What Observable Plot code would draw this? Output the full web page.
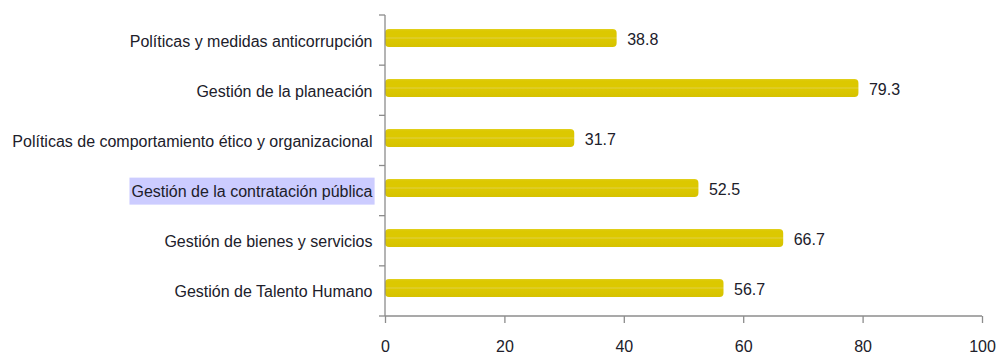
<!DOCTYPE html>
<html>
<head>
<meta charset="utf-8">
<script src="https://cdn.jsdelivr.net/npm/d3@7"></script>
<script src="https://cdn.jsdelivr.net/npm/@observablehq/plot@0.6"></script>
<style>
  body { margin: 0; background: #fff; }
  #chart svg { display: block; }
</style>
</head>
<body>
<div id="chart"></div>
<script>
// Categories, top to bottom
const categories = [
  "Políticas y medidas anticorrupción",
  "Gestión de la planeación",
  "Políticas de comportamiento ético y organizacional",
  "Gestión de la contratación pública",
  "Gestión de bienes y servicios",
  "Gestión de Talento Humano"
];
// Score per category
const values = [38.8, 79.3, 31.7, 52.5, 66.7, 56.7];
// X-axis ticks
const xTicks = [0, 20, 40, 60, 80, 100];
// Label shown with a highlight behind it
const highlighted = "Gestión de la contratación pública";

const data = categories.map((category, i) => ({category, value: values[i]}));

const FONT = "'Liberation Sans', Arial, sans-serif";
const AXIS = "#8c8c8c";
const TEXT = "#20202a";

// Axis lines plus small ticks on the boundaries between category bands
function axisFrame(index, scales, values, dim) {
  const g = d3.create("svg:g").attr("stroke", AXIS).attr("stroke-width", 1.3).attr("fill", "none");
  const x0 = dim.marginLeft, x1 = dim.width - dim.marginRight;
  const y0 = dim.marginTop, y1 = dim.height - dim.marginBottom;
  const n = categories.length;
  const step = (y1 - y0) / n;
  g.append("line").attr("x1", x0).attr("x2", x0).attr("y1", y0).attr("y2", y1);
  g.append("line").attr("x1", x0).attr("x2", x1).attr("y1", y1).attr("y2", y1);
  for (let i = 0; i <= n; ++i) {
    const y = y0 + i * step;
    g.append("line").attr("x1", x0 - 6).attr("x2", x0).attr("y1", y).attr("y2", y);
  }
  return g.node();
}

const chart = Plot.plot({
  width: 998,
  height: 358,
  marginLeft: 385,
  marginRight: 16,
  marginTop: 15,
  marginBottom: 42,
  style: {fontFamily: FONT, background: "#fff", overflow: "visible"},
  x: {domain: [0, 100], ticks: xTicks},
  y: {domain: categories, paddingInner: 0.64, paddingOuter: 0.32},
  marks: [
    Plot.barX(data, {
      x: "value",
      y: "category",
      fill: "url(#barFill)",
      rx: 4,
      dy: -3
    }),
    Plot.text(data, {
      x: "value",
      y: "category",
      text: d => d.value.toFixed(1),
      dx: 10,
      dy: -2,
      textAnchor: "start",
      fill: TEXT,
      fontSize: 16
    }),
    Plot.axisY({
      tickSize: 0,
      tickPadding: 13,
      fontSize: 16,
      fill: TEXT,
      label: null
    }),
    Plot.axisX({
      ticks: xTicks,
      tickSize: 7,
      tickPadding: 17,
      stroke: AXIS,
      strokeWidth: 1.3,
      fontSize: 16,
      fill: TEXT,
      label: null
    }),
    axisFrame
  ]
});

document.getElementById("chart").appendChild(chart);

// Bar fill gradient and soft shadow
const svg = d3.select(chart);
const defs = svg.insert("defs", ":first-child");
const grad = defs.append("linearGradient")
  .attr("id", "barFill").attr("x1", 0).attr("y1", 0).attr("x2", 0).attr("y2", 1);
[[0, "#e2d020"], [0.1, "#dcc800"], [0.44, "#dcc800"], [0.5, "#e0cf40"], [0.56, "#dcc800"], [1, "#d6c200"]]
  .forEach(([o, c]) => grad.append("stop").attr("offset", o).attr("stop-color", c));
const shadow = defs.append("filter")
  .attr("id", "barShadow").attr("x", "-5%").attr("y", "-30%").attr("width", "115%").attr("height", "190%");
shadow.append("feDropShadow")
  .attr("dx", 2).attr("dy", 3).attr("stdDeviation", 1.8)
  .attr("flood-color", "#000").attr("flood-opacity", 0.42);
svg.selectAll("rect").filter(function () { return this.getAttribute("fill") === "url(#barFill)"; })
  .attr("filter", "url(#barShadow)");

// Highlight box behind one category label
svg.selectAll("text").each(function () {
  if (this.textContent === highlighted) {
    const b = this.getBBox();
    const parent = this.parentNode;
    d3.select(parent).insert("rect", function () { return parent.firstChild; })
      .attr("transform", this.getAttribute("transform"))
      .attr("x", b.x - 2).attr("y", b.y - 5)
      .attr("width", b.width + 4).attr("height", b.height + 10)
      .attr("fill", "#ccccff").attr("stroke", "none");
  }
});
</script>
</body>
</html>
